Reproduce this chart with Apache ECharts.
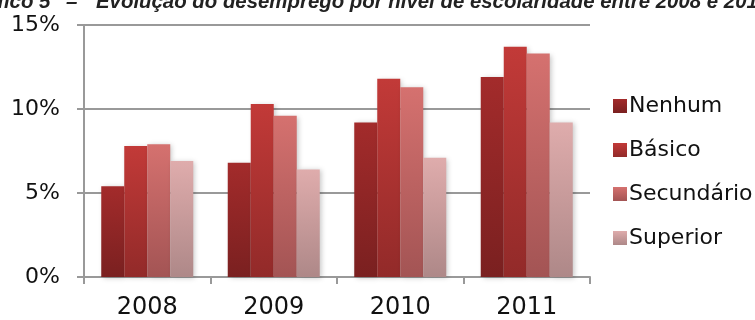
<!DOCTYPE html>
<html>
<head>
<meta charset="utf-8">
<script src="https://cdn.jsdelivr.net/npm/echarts@6/dist/echarts.min.js"></script>
<style>
  html, body { margin: 0; padding: 0; background: #fff; }
  #chart { width: 755px; height: 320px; }
</style>
</head>
<body>
<div id="chart"></div>
<script>
// Unemployment rate (%) by level of schooling, 2008–2011
const categories = ['2008', '2009', '2010', '2011'];
const seriesNames = ['Nenhum', 'Básico', 'Secundário', 'Superior'];
const nenhum = [5.4, 6.8, 9.2, 11.9];
const basico = [7.8, 10.3, 11.8, 13.7];
const secundario = [7.9, 9.6, 11.3, 13.3];
const superior = [6.9, 6.4, 7.1, 9.2];
const yTicks = [0, 5, 10, 15];

const values = [nenhum, basico, secundario, superior];
// top / bottom colours of each bar gradient
const shades = [
  ['#a32b2b', '#7a2020'],
  ['#c23a38', '#922a29'],
  ['#d5716f', '#a35454'],
  ['#dfacac', '#ae8888']
];

const FONT = 'DejaVu Sans';
const TITLE_FONT = 'italic bold 20.4px "Liberation Sans"';
const TITLE_Y = 12; // bottom edge of the title line (mostly above the canvas)

const chart = echarts.init(document.getElementById('chart'), null, { renderer: 'canvas' });

const series = seriesNames.map((name, i) => ({
  name: name,
  type: 'bar',
  data: values[i],
  barWidth: 23,
  barGap: '0%',
  itemStyle: {
    color: new echarts.graphic.LinearGradient(0, 0, 0, 1, [
      { offset: 0, color: shades[i][0] },
      { offset: 1, color: shades[i][1] }
    ]),
    shadowColor: 'rgba(0,0,0,0.22)',
    shadowBlur: 5,
    shadowOffsetX: 2,
    shadowOffsetY: 1
  }
}));

function titlePiece(text, x) {
  return {
    type: 'text',
    x: x,
    y: TITLE_Y,
    style: { text: text, font: TITLE_FONT, fill: '#222', align: 'left', verticalAlign: 'bottom' }
  };
}

chart.setOption({
  animation: false,
  backgroundColor: '#fff',
  graphic: [
    titlePiece('Gráfico 5', -38),
    titlePiece('–', 66),
    titlePiece('Evolução do desemprego por nível de escolaridade entre 2008 e 2011', 96)
  ],
  grid: { left: 84, right: 165, top: 25, bottom: 41.5, containLabel: false },
  legend: {
    orient: 'vertical',
    left: 608,
    top: 90,
    itemWidth: 14,
    itemHeight: 14,
    itemGap: 22,
    icon: 'rect',
    textStyle: { fontFamily: FONT, fontSize: 22, color: '#111', padding: [0, 0, 0, -3] },
    data: seriesNames
  },
  xAxis: {
    type: 'category',
    data: categories,
    boundaryGap: true,
    axisLine: { lineStyle: { color: '#999', width: 2 } },
    axisTick: { show: true, length: 7, lineStyle: { color: '#999', width: 2 } },
    axisLabel: { fontFamily: FONT, fontSize: 24, color: '#111', margin: 19 }
  },
  yAxis: {
    type: 'value',
    min: yTicks[0],
    max: yTicks[yTicks.length - 1],
    interval: yTicks[1] - yTicks[0],
    axisLine: { show: true, lineStyle: { color: '#999', width: 2 } },
    axisTick: { show: true, length: 7, lineStyle: { color: '#999', width: 2 } },
    splitLine: { show: true, lineStyle: { color: '#999', width: 2 } },
    axisLabel: { fontFamily: FONT, fontSize: 22, color: '#111', margin: 24, formatter: '{value}%' }
  },
  series: series
});
</script>
</body>
</html>
